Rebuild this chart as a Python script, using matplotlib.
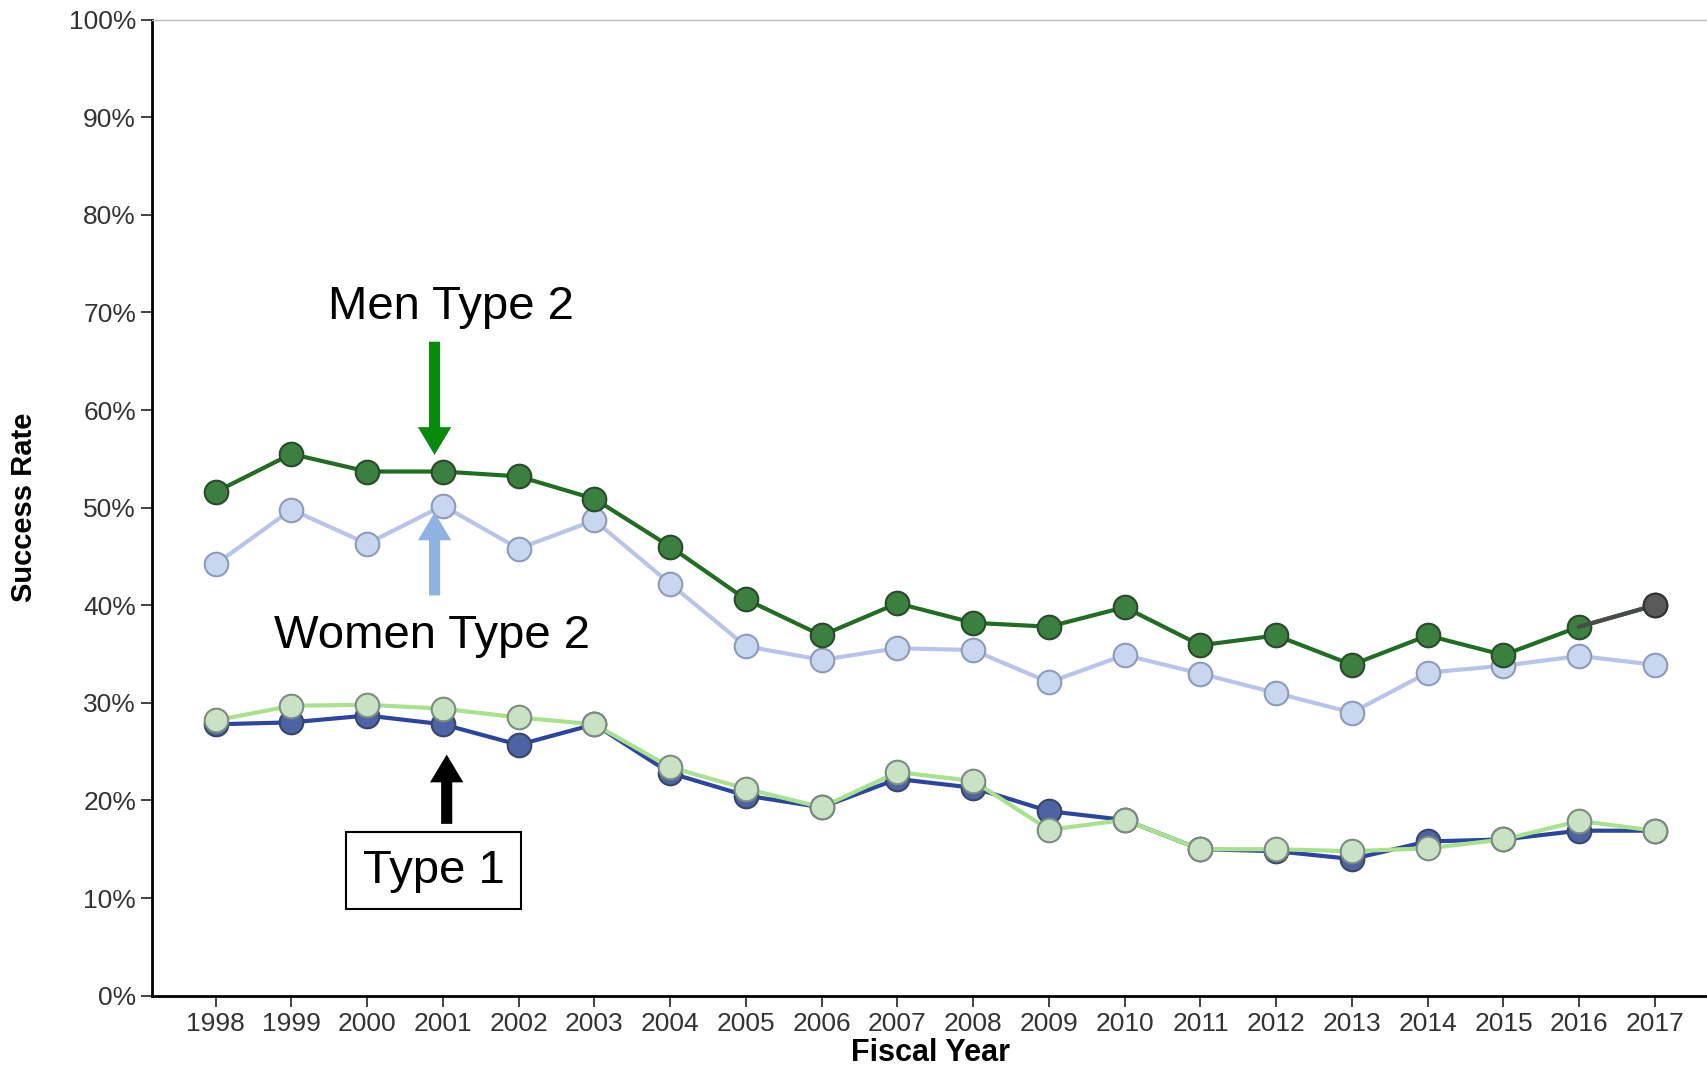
import matplotlib
matplotlib.use('Agg')
import matplotlib.pyplot as plt
import numpy as np

plt.rcParams['font.family'] = ['Liberation Sans', 'DejaVu Sans']

years = list(range(1998, 2018))
men_type2 = [51.6, 55.5, 53.7, 53.7, 53.2, 50.9, 46.0, 40.6, 36.9, 40.2,
             38.2, 37.8, 39.8, 35.9, 36.9, 33.9, 36.9, 34.9, 37.8, 40.0]
women_type2 = [44.2, 49.8, 46.3, 50.2, 45.8, 48.7, 42.2, 35.8, 34.4, 35.6,
               35.4, 32.1, 34.9, 33.0, 31.0, 29.0, 33.1, 33.8, 34.8, 33.9]
men_type1 = [27.8, 28.0, 28.7, 27.8, 25.7, 27.8, 22.8, 20.5, 19.3, 22.2,
             21.3, 18.9, 18.0, 15.0, 14.8, 14.0, 15.8, 16.0, 16.9, 16.9]
women_type1 = [28.2, 29.7, 29.8, 29.4, 28.5, 27.8, 23.4, 21.2, 19.3, 22.9,
               22.0, 17.0, 18.0, 15.0, 15.0, 14.8, 15.1, 16.0, 17.9, 16.9]
y_ticks = list(range(0, 101, 10))
y_ticklabels = [f'{v}%' for v in y_ticks]

fig = plt.figure(figsize=(17.08, 10.66), dpi=100)
ax = fig.add_axes([0.089, 0.066, 0.911, 0.9156])

ms = 17
ax.plot(years, women_type2, color='#b8c4ea', lw=3, marker='o', ms=ms,
        mfc='#c8d6ef', mec='#8d9cb8', mew=1.5, zorder=3)
ax.plot(years, men_type2, color='#1f6e22', lw=3, marker='o', ms=ms,
        mfc='#3c8040', mec='#2a4a2c', mew=1.5, zorder=4)
# last point of men type 2 drawn grey like the original
ax.plot(years[-2:], men_type2[-2:], color='#4a4a4a', lw=3, zorder=4)
ax.plot(years[-1], men_type2[-1], marker='o', ms=ms, mfc='#5a5a5a',
        mec='#333333', mew=1.5, zorder=5)
ax.plot(years, men_type1, color='#2b45a0', lw=3, marker='o', ms=ms,
        mfc='#4c64a4', mec='#39466a', mew=1.5, zorder=3)
ax.plot(years, women_type1, color='#a9e28c', lw=3, marker='o', ms=ms,
        mfc='#c9e2c4', mec='#7d8c80', mew=1.5, zorder=4)

ax.set_xlim(1997.16, 2017.7)
ax.set_ylim(0, 100)
ax.set_xticks(years)
ax.set_xticklabels([str(y) for y in years], fontsize=19, color='#333333')
ax.set_yticks(y_ticks)
ax.set_yticklabels(y_ticklabels, fontsize=19, color='#444444')
ax.tick_params(direction='out', length=8, width=1.2, colors='#222222')
for lbl in ax.get_xticklabels() + ax.get_yticklabels():
    lbl.set_color('#333333')

ax.spines['right'].set_visible(False)
ax.spines['top'].set_color('#bbbbbb')
ax.spines['top'].set_linewidth(1)
ax.spines['left'].set_linewidth(2)
ax.spines['bottom'].set_linewidth(2)

ax.set_ylabel('Success Rate', fontsize=21, fontweight='bold', labelpad=22)
ax.set_xlabel('Fiscal Year', fontsize=22, fontweight='bold', labelpad=2)

# annotations
ax.annotate('', xy=(2000.89, 55.4), xytext=(2000.89, 67.0),
            arrowprops=dict(facecolor='#0a8a0a', edgecolor='none',
                            width=8, headwidth=24, headlength=20))
ax.annotate('', xy=(2000.89, 49.5), xytext=(2000.89, 41.0),
            arrowprops=dict(facecolor='#8db3e2', edgecolor='none',
                            width=8, headwidth=24, headlength=20))
ax.annotate('', xy=(2001.05, 24.7), xytext=(2001.05, 17.6),
            arrowprops=dict(facecolor='black', edgecolor='none',
                            width=8, headwidth=24, headlength=20))

ax.text(2001.1, 70.6, 'Men Type 2', fontsize=34, ha='center', va='center')
ax.text(2000.86, 36.8, 'Women Type 2', fontsize=34, ha='center', va='center')
ax.text(2000.88, 12.8, 'Type 1', fontsize=34, ha='center', va='center',
        bbox=dict(boxstyle='square,pad=0.35', facecolor='white',
                  edgecolor='black', linewidth=1.5))

fig.savefig('out.png', dpi=100)
